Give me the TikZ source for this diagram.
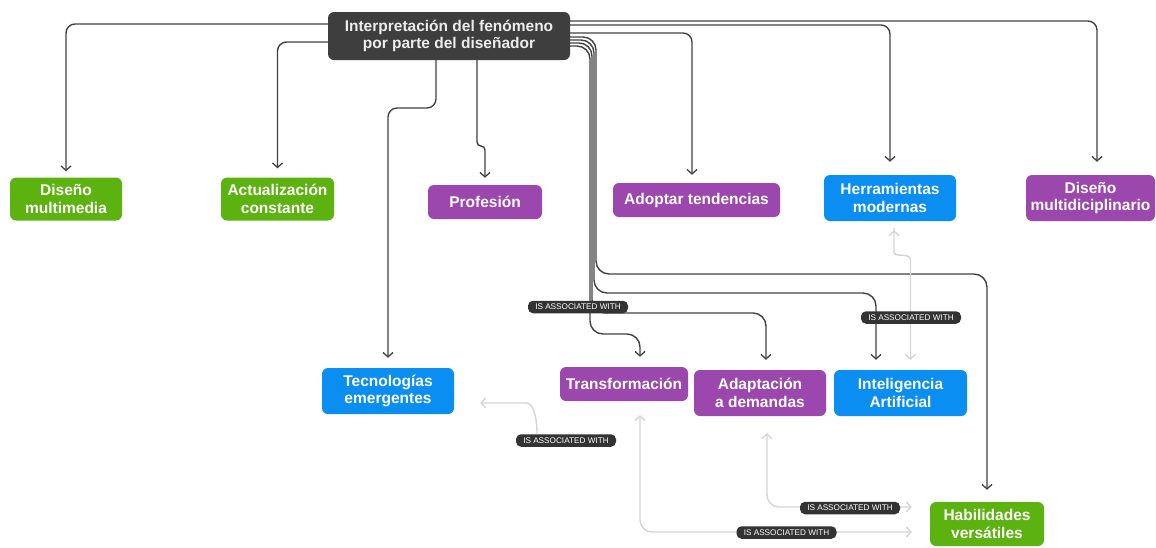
\documentclass[tikz,border=0pt]{standalone}
\usepackage{fontspec}
\setmainfont{Liberation Sans}
\usetikzlibrary{arrows.meta}
\definecolor{mmgreen}{HTML}{5CB30F}
\definecolor{mmpurple}{HTML}{9B47AD}
\definecolor{mmblue}{HTML}{0A8EF2}
\definecolor{mmroot}{HTML}{3E3E3E}
\definecolor{mmpill}{HTML}{333333}
\definecolor{mmline}{HTML}{424242}
\definecolor{mmlight}{HTML}{D4D4D4}
\begin{document}
\begin{tikzpicture}[x=1pt,y=-1pt,
  box/.style={rounded corners=6pt, inner sep=0pt, align=center, text=white,
    font=\fontsize{15.5}{17.5}\selectfont\bfseries},
  rootbox/.style={box, fill=mmroot, text=white!93!black},
  gbox/.style={box, fill=mmgreen},
  pbox/.style={box, fill=mmpurple},
  bbox/.style={box, fill=mmblue},
  pill/.style={fill=mmpill, rounded corners=5pt, text=white, inner sep=0pt,
    font=\fontsize{8.2}{9}\selectfont, minimum width=100pt, minimum height=12.5pt},
  tipv/.tip={Straight Barb[length=4.5pt,width=10pt,line width=1.3pt]},
  link/.style={draw=mmline, line width=1.4pt, rounded corners=9pt, -tipv},
  assoc/.style={draw=mmlight, line width=1.4pt, rounded corners=12pt},
]
\useasboundingbox (0,0) rectangle (1156,547);

% topics
\node[rootbox, minimum width=242pt, minimum height=48pt] (root) at (449,36)
  {Interpretación del fenómeno\\por parte del diseñador};

\node[gbox, minimum width=112pt, minimum height=43pt] (dm) at (66,199) {Diseño\\multimedia};
\node[gbox, minimum width=113pt, minimum height=43pt] (ac) at (277.5,199) {Actualización\\constante};
\node[pbox, minimum width=114pt, minimum height=34pt] (pro) at (485,202) {Profesión};
\node[pbox, minimum width=167pt, minimum height=34pt] (adt) at (696.5,200) {Adoptar tendencias};
\node[bbox, minimum width=132pt, minimum height=46pt] (her) at (890,198) {Herramientas\\modernas};
\node[pbox, minimum width=129pt, minimum height=46pt] (dmd) at (1090.5,198) {Diseño\\multidiciplinario};

\node[bbox, minimum width=132pt, minimum height=46pt] (tec) at (388,391) {Tecnologías\\emergentes};
\node[pbox, minimum width=128pt, minimum height=34pt] (tra) at (624,384) {Transformación};
\node[pbox, minimum width=132pt, minimum height=46pt] (ada) at (760,393) {Adaptación\\a demandas};
\node[bbox, minimum width=133pt, minimum height=46pt] (ia) at (900.5,393) {Inteligencia\\Artificial};
\node[gbox, minimum width=114pt, minimum height=44pt] (hab) at (987,524) {Habilidades\\versátiles};

% branches from the central topic
\draw[link, shorten >=6pt] ([yshift=12pt]root.west) -| (dm.north);
\draw[link, shorten >=9pt] ([yshift=-6pt]root.west) -| (ac.north);
\draw[link, shorten >=10pt] ([xshift=-13pt]root.south) -- (436,108) -- (388,108) -- (tec.north);
\draw[link, rounded corners=4pt, shorten >=7pt] ([xshift=28pt]root.south) -- (477,146) -- (485,146) -- (pro.north);
\draw[link, shorten >=13pt] ([yshift=15pt]root.east) -| ([xshift=6.5pt]dmd.north);
\draw[link, shorten >=13pt] ([yshift=11pt]root.east) -| (her.north);
\draw[link, shorten >=8pt] ([yshift=3pt]root.east) -| ([xshift=-4.5pt]adt.north);

\draw[link, rounded corners=13pt, shorten >=12pt] ([yshift=-1pt]root.east) -- (596,37) -- (596,274) -- (987,274) -- (hab.north);
\draw[link, rounded corners=13pt, shorten >=10pt] ([yshift=-4pt]root.east) -- (594,40) -- (594,293) -- (876,293) -- ([xshift=-24.5pt]ia.north);
\draw[link, rounded corners=13pt, shorten >=10pt] ([yshift=-7pt]root.east) -- (592,43) -- (592,313) -- (766,313) -- ([xshift=6pt]ada.north);
\draw[link, rounded corners=13pt, shorten >=10pt] ([yshift=-10pt]root.east) -- (590,46) -- (590,334) -- (640,334) -- ([xshift=16pt]tra.north);

% associations
\draw[assoc, tipv-tipv, shorten <=9pt, shorten >=10pt] ([xshift=4pt]her.south) -- (894,240)
  .. controls (894,258) and (910.5,252) .. (910.5,272) -- ([xshift=10pt]ia.north);
\draw[assoc, tipv-tipv, shorten <=14pt, shorten >=18pt] ([xshift=16pt]tra.south) |- ([yshift=-8pt]hab.west);
\draw[assoc, tipv-tipv, shorten <=17pt, shorten >=18pt] ([xshift=7pt]ada.south) |- ([yshift=17pt]hab.west);

% relation labels
\node[pill] (l1) at (578,307) {IS ASSOCIATED WITH};
\node[pill] (l2) at (911,317.5) {IS ASSOCIATED WITH};
\node[pill] (l3) at (566,440.5) {IS ASSOCIATED WITH};
\node[pill] (l4) at (850,508) {IS ASSOCIATED WITH};
\node[pill] (l5) at (786.5,532.5) {IS ASSOCIATED WITH};

\draw[assoc, -tipv] ([xshift=-29pt]l3.north) .. controls (537,414) and (532,403) .. (515,403)
  -- ([shift={(26pt,-12pt)}]tec.east);
\end{tikzpicture}
\end{document}
